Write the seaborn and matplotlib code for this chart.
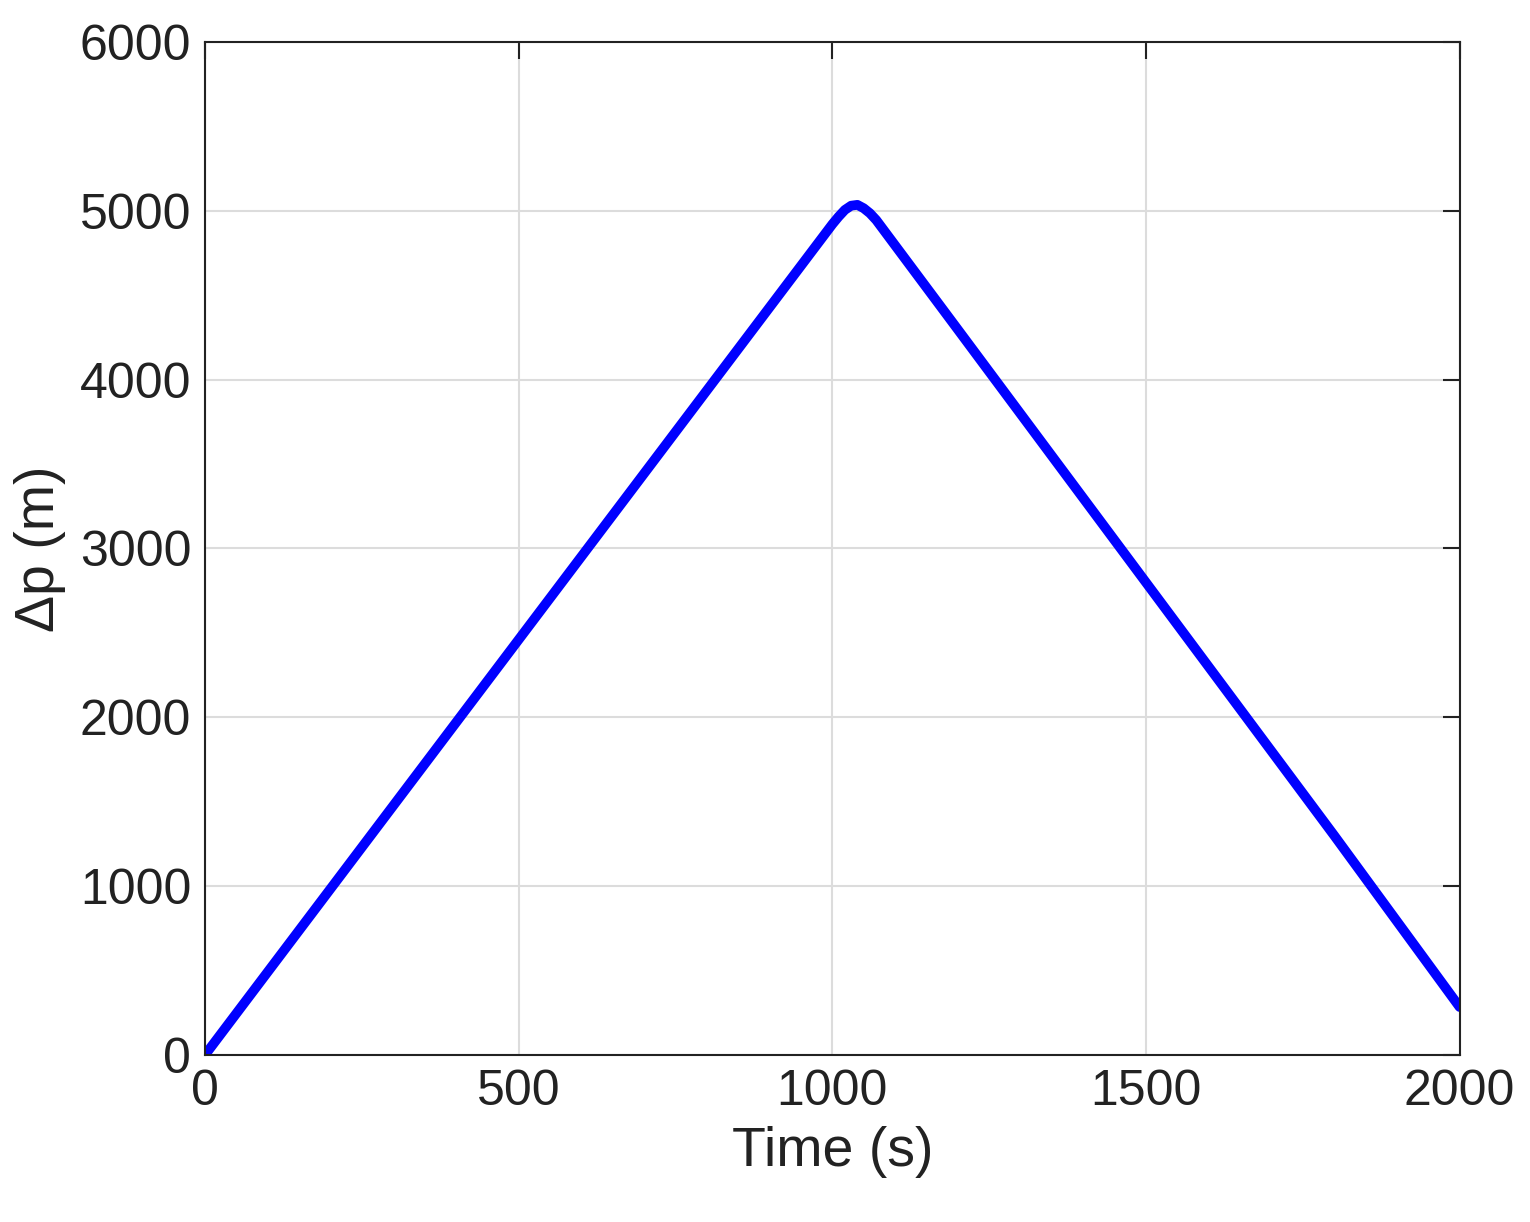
import matplotlib
matplotlib.use("Agg")
import matplotlib.pyplot as plt
import seaborn as sns
import pandas as pd

# data
time_s = [0, 200, 400, 600, 800, 1000, 1010, 1020, 1030, 1040, 1050, 1060, 1070,
          1200, 1400, 1600, 1800, 2000]
dp_m = [0, 984, 1968, 2952, 3936, 4920, 4965, 5005, 5030, 5035, 5015, 4985, 4945,
        4297, 3298, 2299, 1300, 284]

sns.set_theme(style="white")
plt.rcParams['font.family'] = ['Liberation Sans', 'DejaVu Sans']

fig = plt.figure(figsize=(15.3, 12.22), dpi=100)
ax = fig.add_axes([0.134, 0.1367, 0.82, 0.829])

df = pd.DataFrame({"t": time_s, "dp": dp_m})
sns.lineplot(data=df, x="t", y="dp", ax=ax, color="#0000ff", linewidth=7,
             solid_joinstyle="round")

ax.set_xlim(0, 2000)
ax.set_ylim(0, 6000)
ax.set_xticks([0, 500, 1000, 1500, 2000])
ax.set_yticks(range(0, 6001, 1000))
ax.grid(True, color="#dcdcdc", linewidth=1.5)
ax.tick_params(direction="in", length=12, width=1.5, labelsize=36,
               top=True, right=True, colors="#222222", pad=10)
for s in ax.spines.values():
    s.set_linewidth(1.5)
    s.set_color("#222222")
ax.set_xlabel("Time (s)", fontsize=40, color="#222222", labelpad=8)
ax.set_ylabel("Δp (m)", fontsize=40, color="#222222", labelpad=10)

fig.savefig("out.png", dpi=100)
